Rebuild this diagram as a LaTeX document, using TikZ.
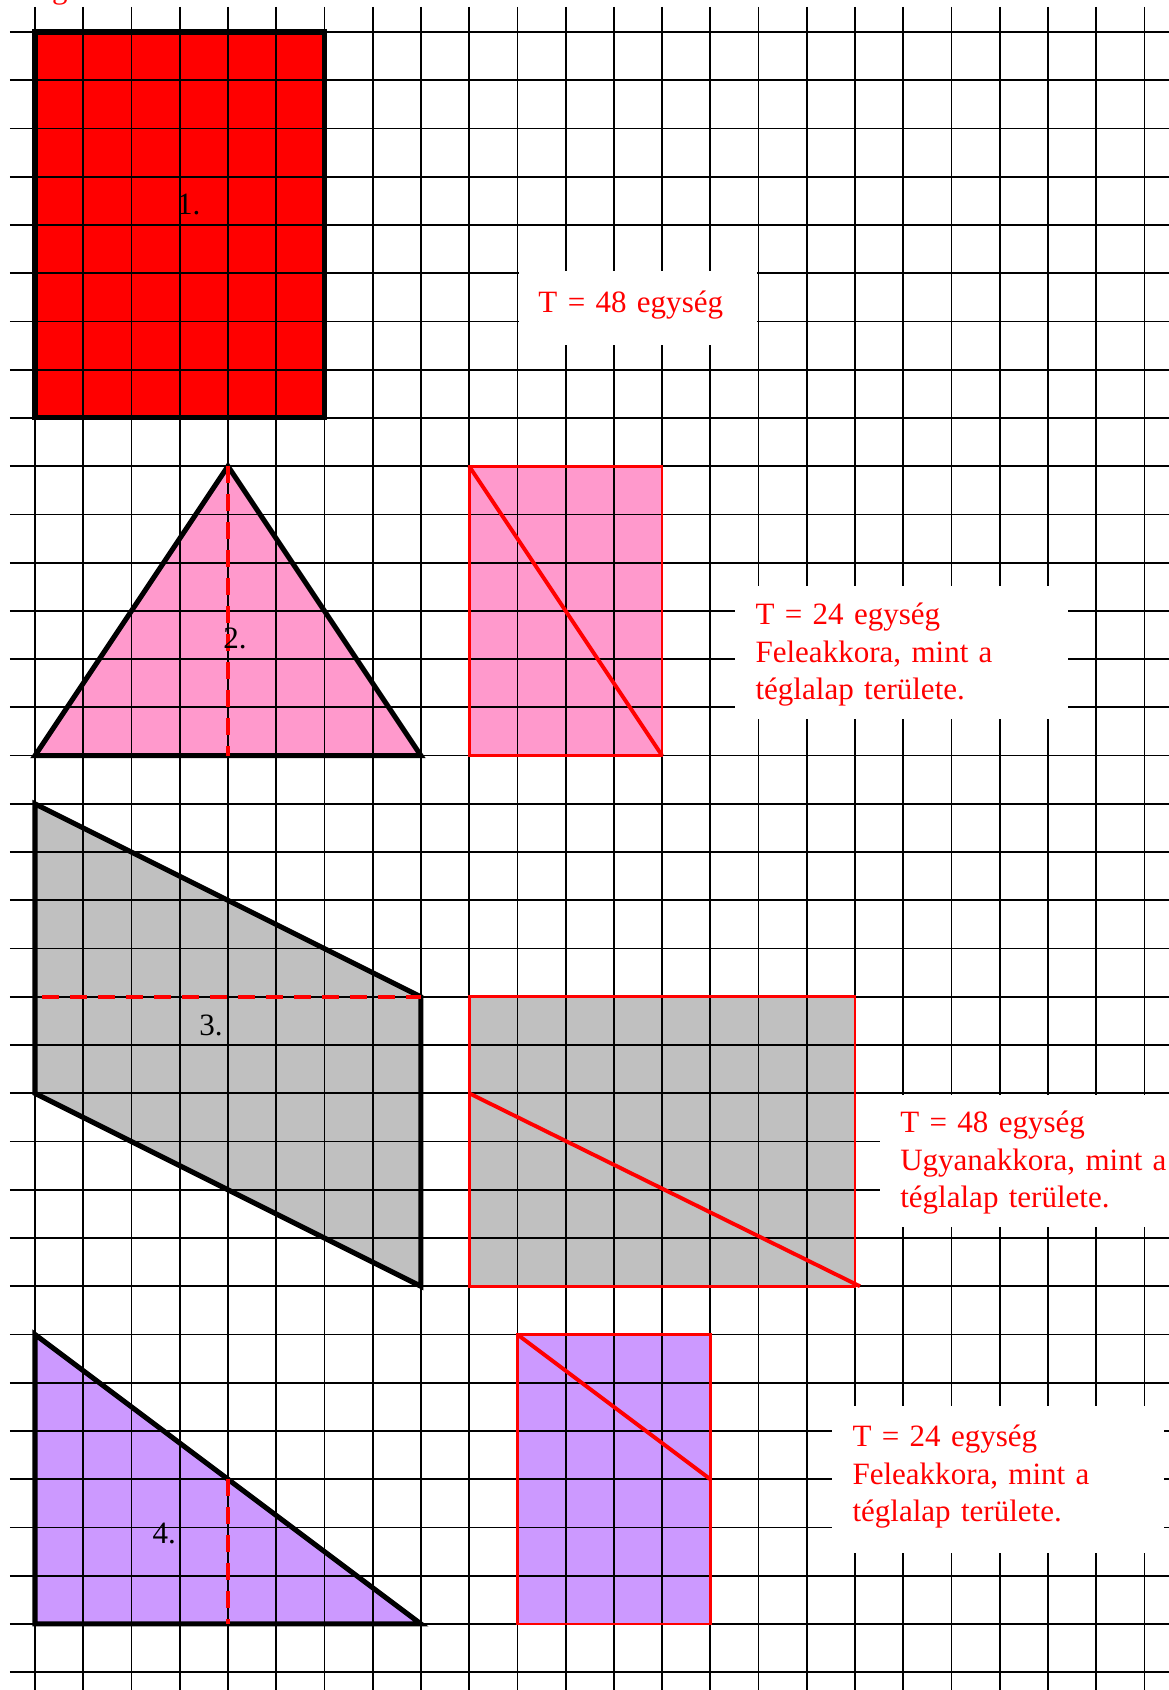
\documentclass[tikz,border=0pt]{standalone}
\usepackage{xcolor}
\usepackage{tikz}
\usepackage{fontspec}
\setmainfont{Liberation Serif}
\usetikzlibrary{positioning}
\definecolor{areared}{HTML}{FF0000}
\definecolor{areapink}{HTML}{FF99CC}
\definecolor{areagray}{HTML}{C0C0C0}
\definecolor{areapurple}{HTML}{CC99FF}
\tikzstyle{gridline} = [line width=1.05pt, black]
\tikzstyle{shapeline} = [line width=3pt, black, line join=miter]
\tikzstyle{rectline} = [line width=1.6pt, areared]
\tikzstyle{diagline} = [line width=2.3pt, areared]
\tikzstyle{heightline} = [line width=2pt, areared, dash pattern=on 10pt off 6.5pt]
\tikzstyle{answer} = [anchor=base west, inner sep=0pt, text=areared, text width=9cm, align=left, font=\fontsize{18.3}{22}\selectfont]
\tikzstyle{shapelabel} = [anchor=base west, inner sep=0pt, font=\fontsize{18.3}{22}\selectfont]

\begin{document}
\begin{tikzpicture}
    \useasboundingbox (-0.7255,0.6633) rectangle (23.487,-34.37);
    % corners of the figures
    \coordinate (apex) at (4,-9);
    \coordinate (foot) at (4,-15);
    \coordinate (mid) at (4,-30);
    \coordinate (midfoot) at (4,-33);

    % fills under the grid
    \fill[areared] (0,0) rectangle (6,-8);
    \fill[areapink] (0,-15) -- (apex) -- (8,-15) -- cycle;
    \fill[areapink] (9,-9) rectangle (13,-15);
    \fill[areagray] (0,-16) -- (8,-20) -- (8,-26) -- (0,-22) -- cycle;
    \fill[areagray] (9,-20) rectangle (17,-26);
    \fill[areapurple] (0,-27) -- (8,-33) -- (0,-33) -- cycle;
    \fill[areapurple] (10,-27) rectangle (14,-33);

    % grid
    \foreach \j in {0,...,34}
        \draw[gridline] (-0.52,-\j) -- (24,-\j);
    \foreach \i in {0,...,23}
        \draw[gridline] (\i,0.52) -- (\i,-35);

    % white text boxes
    \fill[white] (10.03,-4.96) rectangle (14.97,-6.49);
    \fill[white] (14.51,-11.48) rectangle (21.42,-14.24);
    \fill[white] (17.52,-22.03) rectangle (24,-24.77);
    \fill[white] (16.52,-28.48) rectangle (23.4,-31.53);

    % outlines
    \draw[shapeline] (0,0) rectangle (6,-8);
    \draw[shapeline] (0,-15) -- (apex) -- (8,-15) -- cycle;
    \draw[shapeline] (0,-16) -- (8,-20) -- (8,-26) -- (0,-22) -- cycle;
    \draw[shapeline] (0,-27) -- (8,-33) -- (0,-33) -- cycle;
    \draw[heightline] (apex) -- (foot);
    \draw[heightline] (0.15,-20) -- (8,-20);
    \draw[heightline] (mid) -- (midfoot);

    \draw[rectline] (9,-9) rectangle (13,-15);
    \draw[diagline] (9,-9) -- (13,-15);
    \draw[rectline] (9,-20) rectangle (17,-26);
    \draw[diagline] (9,-22) -- (17.1,-26);
    \draw[rectline] (10,-27) rectangle (14,-33);
    \draw[diagline] (10,-27) -- (14,-30);

    % labels
    \node[shapelabel] (lab1) at (2.94,-3.79) {1.};
    \node[shapelabel] (lab2) at (3.9,-12.79) {2.};
    \node[shapelabel] (lab3) at (3.4,-20.81) {3.};
    \node[shapelabel] (lab4) at (2.43,-31.34) {4.};

    \node[answer] (top) at (0.35,0.70) {g};
    \node[answer] (area1) at (10.43,-5.825) {T = 48 egység};
    \node[answer] (area2) at (14.93,-12.29) {T = 24 egység\\Feleakkora, mint a\\téglalap területe.};
    \node[answer] (area3) at (17.93,-22.82) {T = 48 egység\\Ugyanakkora, mint a\\téglalap területe.};
    \node[answer] (area4) at (16.94,-29.33) {T = 24 egység\\Feleakkora, mint a\\téglalap területe.};
\end{tikzpicture}
\end{document}
